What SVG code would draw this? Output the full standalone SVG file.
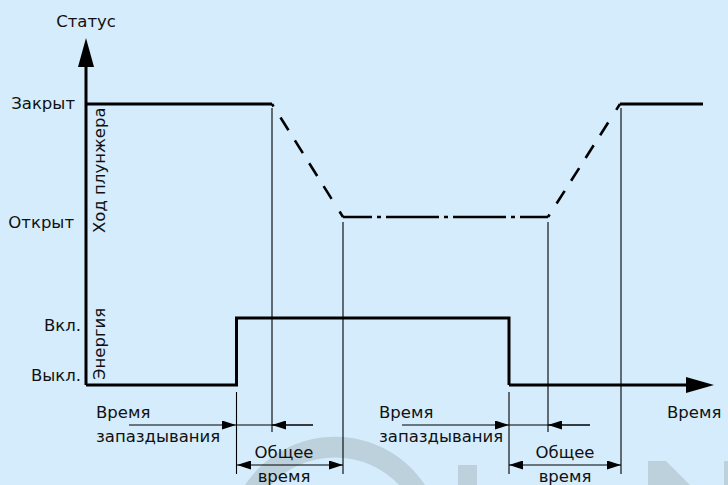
<svg xmlns="http://www.w3.org/2000/svg" width="728" height="485" viewBox="0 0 728 485">
<style>
text{font-family:"DejaVu Sans","Liberation Sans",sans-serif;font-size:16.5px;fill:#111}
.thick{stroke:#000;stroke-width:3;fill:none}
.dash{stroke:#000;stroke-width:2.6;fill:none;stroke-dasharray:3 13 15 12 15 12 15 12 15 15 10}
.thin{stroke:#000;stroke-width:1.1;fill:none}
.dim{stroke:#000;stroke-width:1;fill:none}
.wm{fill:#bdd1dc}
</style>
<defs>
<marker id="ah" viewBox="0 0 14 9" refX="14" refY="4.5" markerWidth="14" markerHeight="9" markerUnits="userSpaceOnUse" orient="auto-start-reverse">
<path d="M0,0 L14,4.5 L0,9 Z" fill="#000"/>
</marker>
</defs>
<rect width="728" height="485" fill="#d4ecfb"/>
<g id="watermark">
<path class="wm" d="M245,485 A108,108 0 0 1 425,485 L399,485 A88,88 0 0 0 271,485 Z"/>
<rect class="wm" x="458" y="465" width="19" height="20"/>
<path class="wm" d="M648,461 L666,461 L690,485 L648,485 Z"/>
<rect class="wm" x="724" y="461" width="4" height="24"/>
</g>
<g id="axes">
<path class="thick" d="M86,385 L86,64"/>
<path d="M78,67 L86,38 L94,67 Z" fill="#000"/>
<path class="thick" d="M509,385 L688,385"/>
<path d="M686,377 L714,385 L686,393 Z" fill="#000"/>
<text x="86" y="27" text-anchor="middle">Статус</text>
<text x="667" y="418">Время</text>
</g>
<g id="status-labels">
<text x="75" y="109" text-anchor="end">Закрыт</text>
<text x="74" y="228" text-anchor="end">Открыт</text>
<text x="81" y="331" text-anchor="end">Вкл.</text>
<text x="81" y="381" text-anchor="end">Выкл.</text>
<text transform="translate(105,233) rotate(-90)">Ход плунжера</text>
<text transform="translate(105,380) rotate(-90)">Энергия</text>
</g>
<g id="plunger-stroke">
<path class="thick" d="M86,104 L272,104"/>
<path class="dash" d="M272,104 L343,217"/>
<path stroke="#000" stroke-width="2.6" fill="none" stroke-dasharray="53 5 4 5" stroke-dashoffset="24" d="M343,217 L548,217"/>
<path class="dash" d="M548,217 L620,104"/>
<path class="thick" d="M620,104 L703,104"/>
</g>
<g id="energy">
<path class="thick" d="M86,385 L236.5,385 L236.5,318 L509,318 L509,385"/>
</g>
<g id="connectors">
<path class="thin" d="M272,108 L272,432"/>
<path class="thin" d="M343,222 L343,474"/>
<path class="thin" d="M548,222 L548,432"/>
<path class="thin" d="M621,108 L621,474"/>
<path class="thin" d="M236.5,392 L236.5,474"/>
<path class="thin" d="M509,392 L509,474"/>
<path class="dim" d="M129,425 L236,425" marker-end="url(#ah)"/>
<path class="dim" d="M236,425 L313,425"/>
<path class="dim" d="M313,425 L272,425" marker-end="url(#ah)"/>
<path class="dim" d="M237,465 L343,465" marker-start="url(#ah)" marker-end="url(#ah)"/>
<path class="dim" d="M402,425 L509,425" marker-end="url(#ah)"/>
<path class="dim" d="M509,425 L590,425"/>
<path class="dim" d="M590,425 L548,425" marker-end="url(#ah)"/>
<path class="dim" d="M509,465 L621,465" marker-start="url(#ah)" marker-end="url(#ah)"/>
</g>
<g id="time-labels">
<text x="96" y="418">Время</text>
<text x="96" y="442">запаздывания</text>
<text x="284" y="458" text-anchor="middle">Общее</text>
<text x="284" y="482" text-anchor="middle">время</text>
<text x="379" y="418">Время</text>
<text x="379" y="442">запаздывания</text>
<text x="565" y="458" text-anchor="middle">Общее</text>
<text x="565" y="482" text-anchor="middle">время</text>
</g>
</svg>
